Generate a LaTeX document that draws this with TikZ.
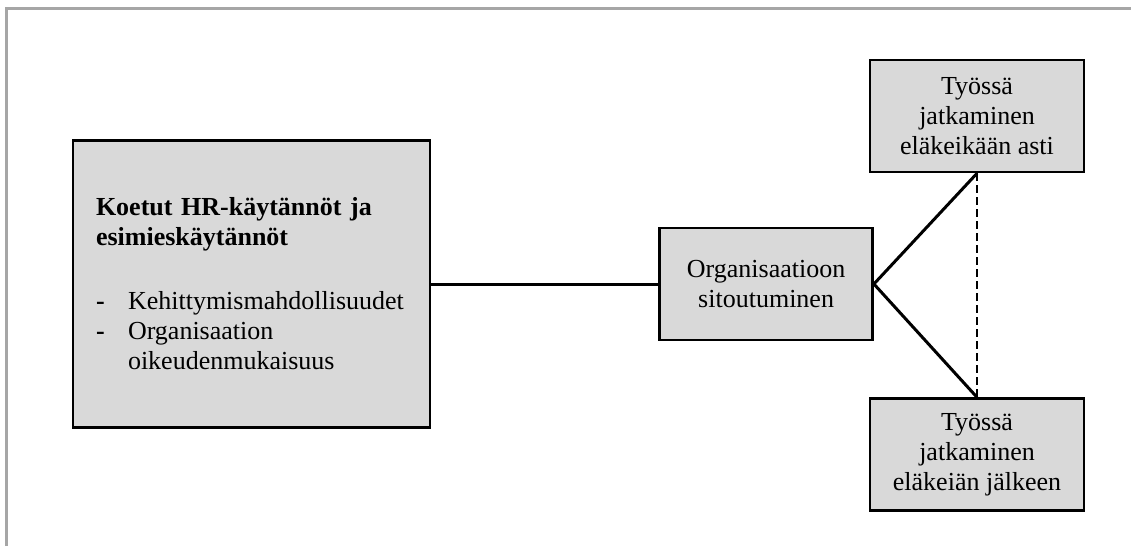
\documentclass[tikz,border=0pt]{standalone}
\usepackage{fontspec}
\setmainfont{Liberation Serif}
\usetikzlibrary{positioning}
\definecolor{boxgray}{HTML}{D9D9D9}
\definecolor{framegray}{HTML}{A6A6A6}

\begin{document}
\begin{tikzpicture}[x=1pt,y=-1pt,
    box/.style={draw,line width=2.6pt,fill=boxgray,inner sep=0pt,align=center,
        minimum width=214pt,minimum height=112pt,font=\fontsize{26}{30}\selectfont},
    link/.style={line width=3pt},
    dashlink/.style={line width=2pt,dash pattern=on 8pt off 4pt}]
    \useasboundingbox (0,0) rectangle (1131,546);
    % frame
    \draw [line width=3pt,framegray] (6,546) -- (6,8.3) -- (1131,8.3);
    \node [box,align=left,text width=311pt,inner xsep=23pt,minimum height=287pt] (hr) at (251.5,284)
        {\mbox{\textbf{Koetut HR-käytännöt ja}}\\
         \mbox{\textbf{esimieskäytännöt}}\\[34pt]
         \makebox[32pt][l]{\textbf{-}}Kehittymismahdollisuudet\\
         \makebox[32pt][l]{\textbf{-}}Organisaation\\
         \hspace*{32pt}oikeudenmukaisuus};
    \node [box,minimum width=213pt] (sit) [right=227pt of hr] {Organisaatioon\\sitoutuminen};
    \node [box] (asti) at (977,116) {Työssä\\jatkaminen\\eläkeikään asti};
    \node [box] (jalkeen) [below=224pt of asti] {Työssä\\jatkaminen\\eläkeiän jälkeen};
    \draw [link] (hr) -- (sit);
    \draw [link] (asti.south) -- (sit.east) -- (jalkeen.north);
    \draw [dashlink] (asti.south) -- (jalkeen.north);
\end{tikzpicture}
\end{document}
